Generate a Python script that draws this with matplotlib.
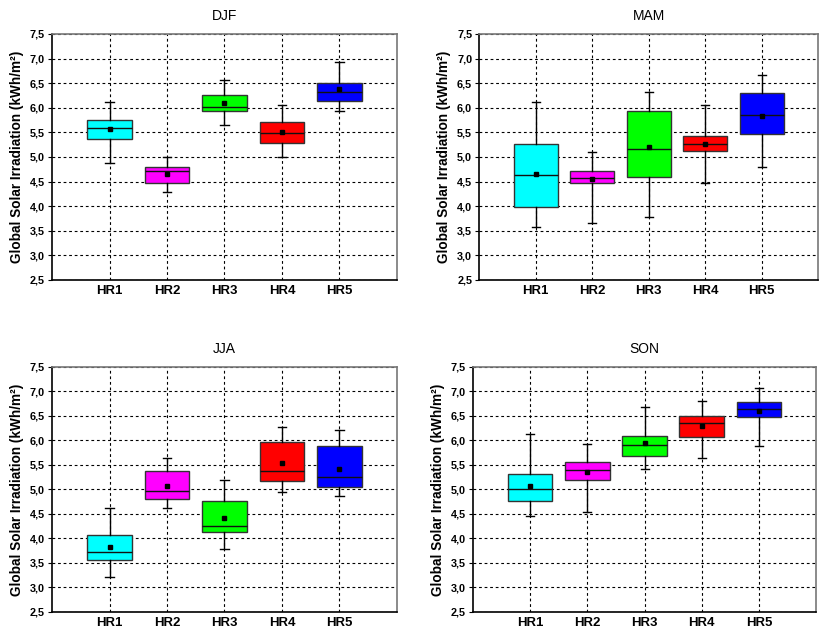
import numpy as np
import matplotlib.pyplot as plt
from matplotlib.ticker import FuncFormatter

plt.rcParams['font.family'] = ['Liberation Sans', 'DejaVu Sans']

regions = ['HR1', 'HR2', 'HR3', 'HR4', 'HR5']
colors = ['#00ffff', '#ff00ff', '#00ff00', '#ff0000', '#0000ff']
seasons = ['DJF', 'MAM', 'JJA', 'SON']

# per season, per region: whisker low, q1, median, q3, whisker high, mean
djf_low = [4.87, 4.28, 5.64, 4.99, 5.94]
djf_q1 = [5.36, 4.47, 5.93, 5.28, 6.14]
djf_med = [5.59, 4.71, 6.02, 5.48, 6.32]
djf_q3 = [5.75, 4.80, 6.25, 5.72, 6.51]
djf_high = [6.11, 4.99, 6.57, 6.05, 6.92]
djf_mean = [5.56, 4.65, 6.09, 5.50, 6.38]

mam_low = [3.57, 3.65, 3.77, 4.48, 4.80]
mam_q1 = [3.99, 4.47, 4.59, 5.12, 5.47]
mam_med = [4.63, 4.57, 5.16, 5.27, 5.86]
mam_q3 = [5.27, 4.72, 5.93, 5.42, 6.29]
mam_high = [6.11, 5.11, 6.32, 6.05, 6.67]
mam_mean = [4.65, 4.55, 5.20, 5.26, 5.83]

jja_low = [3.21, 4.63, 3.78, 4.94, 4.86]
jja_q1 = [3.56, 4.80, 4.14, 5.18, 5.06]
jja_med = [3.72, 4.97, 4.25, 5.38, 5.25]
jja_q3 = [4.07, 5.37, 4.76, 5.96, 5.88]
jja_high = [4.62, 5.64, 5.20, 6.27, 6.22]
jja_mean = [3.83, 5.07, 4.41, 5.53, 5.42]

son_low = [4.46, 4.55, 5.42, 5.64, 5.88]
son_q1 = [4.77, 5.19, 5.68, 6.07, 6.47]
son_med = [5.00, 5.40, 5.90, 6.35, 6.65]
son_q3 = [5.32, 5.57, 6.10, 6.49, 6.79]
son_high = [6.14, 5.93, 6.68, 6.81, 7.06]
son_mean = [5.07, 5.36, 5.94, 6.29, 6.61]

data = {
    'DJF': (djf_low, djf_q1, djf_med, djf_q3, djf_high, djf_mean),
    'MAM': (mam_low, mam_q1, mam_med, mam_q3, mam_high, mam_mean),
    'JJA': (jja_low, jja_q1, jja_med, jja_q3, jja_high, jja_mean),
    'SON': (son_low, son_q1, son_med, son_q3, son_high, son_mean),
}

yticks = np.arange(2.5, 7.51, 0.5)

fig = plt.figure(figsize=(8.19, 6.30), dpi=100)
positions = [
    [0.0635, 0.5556, 0.4212, 0.3905],
    [0.585, 0.5556, 0.414, 0.3905],
    [0.0635, 0.0286, 0.4212, 0.389],
    [0.5775, 0.0286, 0.419, 0.389],
]

for season, pos in zip(seasons, positions):
    ax = fig.add_axes(pos)
    low, q1, med, q3, high, mean = data[season]
    stats = []
    for i, r in enumerate(regions):
        stats.append(dict(label=r, whislo=low[i], q1=q1[i], med=med[i],
                          q3=q3[i], whishi=high[i], mean=mean[i], fliers=[]))
    x = np.arange(1, len(regions) + 1)
    bp = ax.bxp(stats, positions=x, widths=0.78, patch_artist=True,
                showmeans=True, showfliers=False,
                boxprops=dict(edgecolor='#333333', linewidth=1.0),
                medianprops=dict(color='#111111', linewidth=1.0),
                whiskerprops=dict(color='black', linewidth=1.0),
                capprops=dict(color='black', linewidth=1.0),
                meanprops=dict(marker='s', markersize=3.5,
                               markerfacecolor='black', markeredgecolor='black'),
                capwidths=0.14, zorder=3)
    for patch, c in zip(bp['boxes'], colors):
        patch.set_facecolor(c)

    ax.set_xlim(0, 6)
    ax.set_ylim(2.5, 7.5)
    ax.set_xticks(x)
    ax.set_xticklabels(regions, fontsize=9.5, fontweight='bold')
    ax.set_yticks(yticks)
    ax.yaxis.set_major_formatter(FuncFormatter(lambda v, p: f'{v:.1f}'.replace('.', ',')))
    for lab in ax.get_yticklabels():
        lab.set_fontweight('bold')
        lab.set_fontsize(7.8)
    ax.tick_params(axis='x', length=0, pad=3.5)
    ax.tick_params(axis='y', length=3, pad=2)
    ax.grid(True, color='black', linestyle=(0, (2.5, 2.5)), linewidth=0.8, zorder=0)
    ax.set_axisbelow(True)
    ax.set_ylabel('Global Solar Irradiation (kWh/m²)', fontsize=9.8,
                  fontweight='bold', labelpad=4)
    ax.set_title(season, fontsize=10, pad=10)
    ax.spines['top'].set_color('#777777')
    ax.spines['right'].set_color('#777777')
    for s in ax.spines.values():
        s.set_linewidth(1.2)

fig.savefig('out.png', dpi=100)
